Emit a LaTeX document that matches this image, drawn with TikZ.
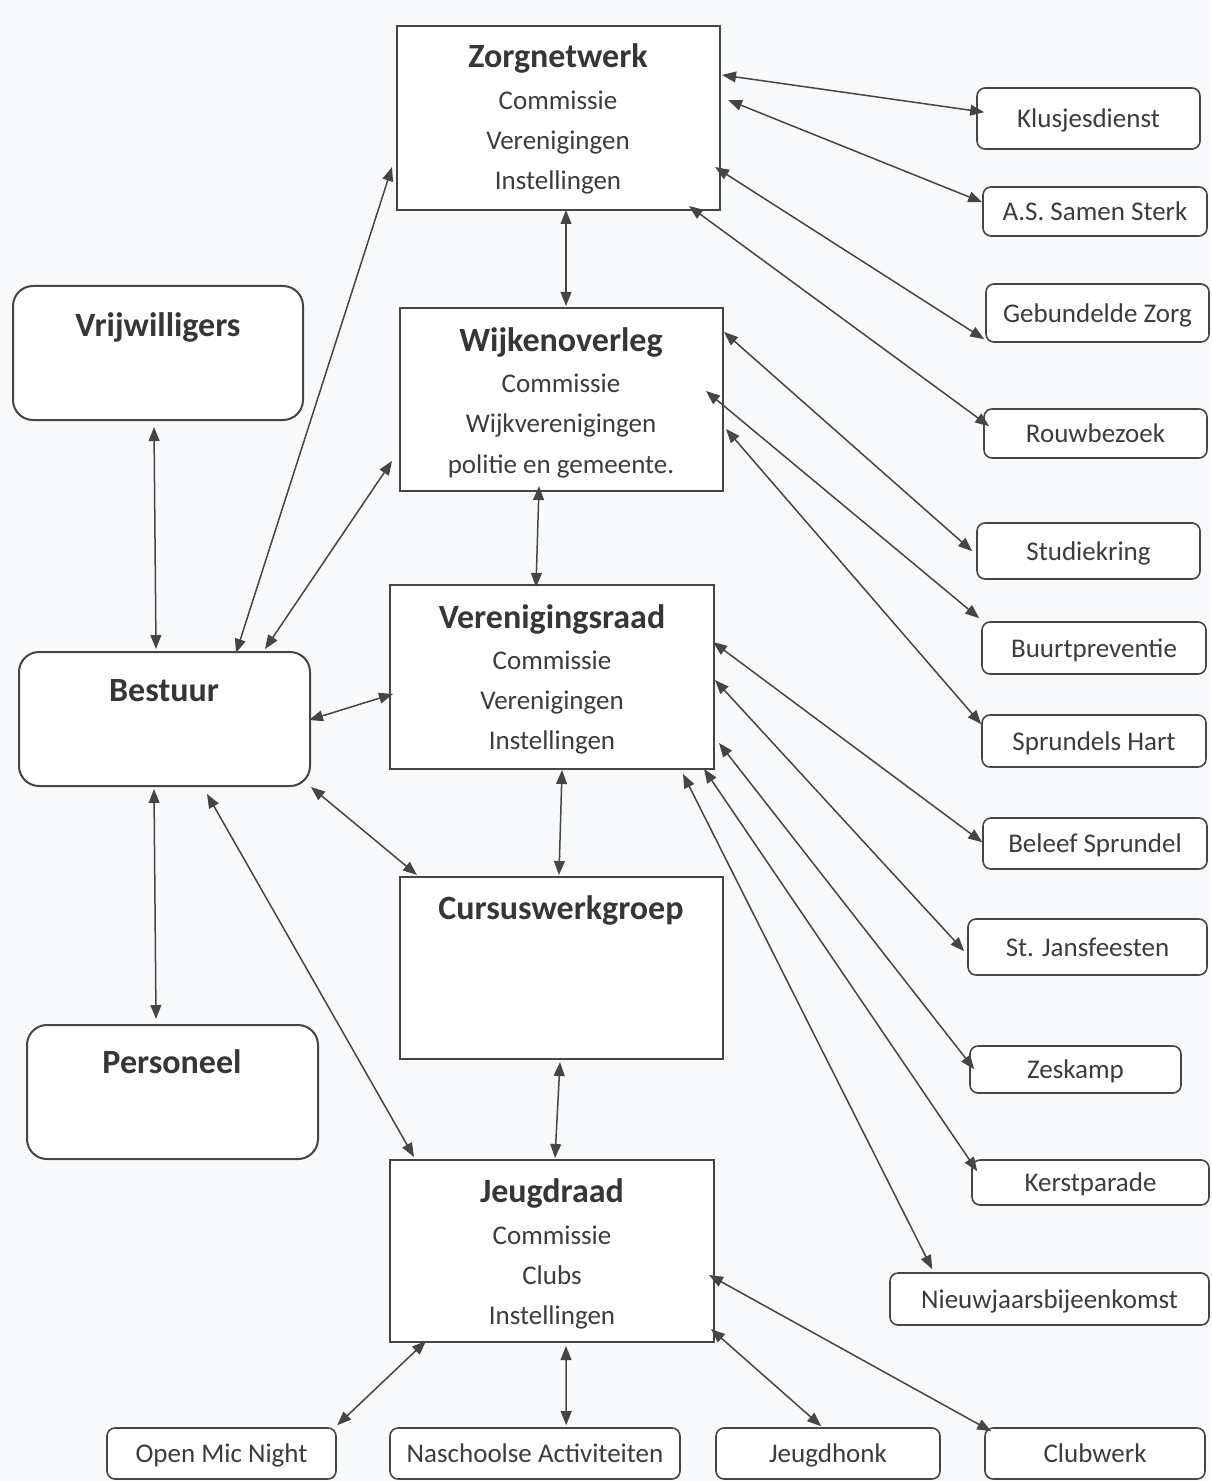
\documentclass[tikz,border=0pt]{standalone}
\usepackage{fontspec}
\setmainfont{Carlito}
\usetikzlibrary{fit,calc,arrows.meta}
\definecolor{bgc}{HTML}{F8F9FA}
\definecolor{linec}{HTML}{454545}
\definecolor{txtc}{HTML}{3C3C3C}
\tikzset{
  mbox/.style={draw=linec, line width=1pt, inner sep=0pt, fill=white},
  lbox/.style={draw=linec, line width=1pt, inner sep=0pt, rounded corners=10pt, fill=white},
  sbox/.style={draw=linec, line width=0.8pt, inner sep=0pt, rounded corners=4pt, fill=white,
    text=txtc, font=\fontsize{13.5}{16}\selectfont, text height=9pt, text depth=0pt},
  ttl/.style={anchor=base, inner sep=0pt, text=txtc!90!black, font=\fontsize{17}{20}\selectfont\bfseries},
  bdy/.style={anchor=base, inner sep=0pt, text=txtc, font=\fontsize{13.5}{16}\selectfont},
  link/.style={{Triangle[length=7pt,width=5.4pt]}-{Triangle[length=7pt,width=5.4pt]}, line width=0.75pt, draw=linec}
}
\begin{document}
\begin{tikzpicture}[x=0.5pt,y=-0.5pt]
\fill[bgc] (0,0) rectangle (1211,1481);
\useasboundingbox (0,0) rectangle (1211,1481);

% main boxes
\node[mbox, fit={(397,26)(720,210)}] (zorg) {};
\node[mbox, fit={(400,308)(723,491)}] (wijk) {};
\node[mbox, fit={(390,585)(714,769)}] (ver) {};
\node[mbox, fit={(400,877)(723,1059)}] (curs) {};
\node[mbox, fit={(390,1160)(714,1342)}] (jeugd) {};

% left boxes
\node[lbox, fit={(13,286)(303,420)}] (vrij) {};
\node[lbox, fit={(19,652)(310,786)}] (best) {};
\node[lbox, fit={(27,1025)(318,1159)}] (pers) {};

% titles and lines
\node[ttl] (zorgT) at (558,68) {Zorgnetwerk};
\node[bdy] (zorgA) at (558,110) {Commissie};
\node[bdy] (zorgB) at (558,150) {Verenigingen};
\node[bdy] (zorgC) at (558,190) {Instellingen};

\node[ttl] (wijkT) at (561,351) {Wijkenoverleg};
\node[bdy] (wijkA) at (561,392) {Commissie};
\node[bdy] (wijkB) at (561,432) {Wijkverenigingen};
\node[bdy] (wijkC) at (561,473) {politie en gemeente.};

\node[ttl] (verT) at (552,628) {Verenigingsraad};
\node[bdy] (verA) at (552,669) {Commissie};
\node[bdy] (verB) at (552,709) {Verenigingen};
\node[bdy] (verC) at (552,749) {Instellingen};

\node[ttl] (cursT) at (561,919) {Cursuswerkgroep};

\node[ttl] (jeugdT) at (552,1202) {Jeugdraad};
\node[bdy] (jeugdA) at (552,1244) {Commissie};
\node[bdy] (jeugdB) at (552,1284) {Clubs};
\node[bdy] (jeugdC) at (552,1324) {Instellingen};

\node[ttl] (vrijT) at (158,336) {Vrijwilligers};
\node[ttl] (bestT) at (164,701) {Bestuur};
\node[ttl] (persT) at (172,1073) {Personeel};

% right boxes
\node[sbox, minimum width=111.5pt, minimum height=30.5pt] (klus) at (1088.5,118.5) {Klusjesdienst};
\node[sbox, minimum width=112pt, minimum height=24.5pt] (as) at (1095,211.5) {A.S. Samen Sterk};
\node[sbox, minimum width=111.5pt, minimum height=29pt] (geb) at (1097.5,313) {Gebundelde Zorg};
\node[sbox, minimum width=111.5pt, minimum height=24.5pt] (rouw) at (1095.5,433.5) {Rouwbezoek};
\node[sbox, minimum width=111.5pt, minimum height=28pt] (stud) at (1088.5,551) {Studiekring};
\node[sbox, minimum width=112pt, minimum height=26pt] (buurt) at (1094,648) {Buurtpreventie};
\node[sbox, minimum width=112pt, minimum height=26pt] (spr) at (1094,741) {Sprundels Hart};
\node[sbox, minimum width=112pt, minimum height=25.5pt] (bel) at (1095,843.5) {Beleef Sprundel};
\node[sbox, minimum width=119.5pt, minimum height=28pt] (jans) at (1087.5,947) {St. Jansfeesten};
\node[sbox, minimum width=105.5pt, minimum height=23.5pt] (zes) at (1075.5,1069.5) {Zeskamp};
\node[sbox, minimum width=118.5pt, minimum height=22.5pt] (kerst) at (1090.5,1182.5) {Kerstparade};
\node[sbox, minimum width=159.5pt, minimum height=26pt] (nieuw) at (1049.5,1299) {Nieuwjaarsbijeenkomst};

% bottom boxes
\node[sbox, minimum width=114.5pt, minimum height=25.5pt] (open) at (221.5,1453.5) {Open Mic Night};
\node[sbox, minimum width=145pt, minimum height=25.5pt] (nas) at (535,1453.5) {Naschoolse Activiteiten};
\node[sbox, minimum width=112pt, minimum height=25.5pt] (jhonk) at (828,1453.5) {Jeugdhonk};
\node[sbox, minimum width=110pt, minimum height=25.5pt] (club) at (1095,1453.5) {Clubwerk};

% connectors: Zorgnetwerk
\draw[link] ($(zorg.north west)+(326,50)$) -- ($(klus.north west)+(8,25)$);
\draw[link] ($(zorg.north west)+(332,75)$) -- ($(as.north west)+(0,16)$);
\draw[link] ($(zorg.north west)+(319,142)$) -- ($(geb.north west)+(-1,56)$);
\draw[link] ($(zorg.north west)+(293,181)$) -- ($(rouw.north west)+(6,18)$);
% Wijkenoverleg
\draw[link] ($(wijk.north west)+(325,25)$) -- ($(stud.north west)+(-4,29)$);
\draw[link] ($(wijk.north west)+(307,84)$) -- ($(buurt.north west)+(-2,-3)$);
\draw[link] ($(wijk.north west)+(327,122)$) -- ($(spr.north west)+(0,10)$);
% Verenigingsraad
\draw[link] ($(ver.north west)+(324,58)$) -- ($(bel.north west)+(0,25)$);
\draw[link] ($(ver.north west)+(326,96)$) -- ($(jans.north west)+(-3,33)$);
\draw[link] ($(ver.north west)+(330,159)$) -- ($(zes.north west)+(5,24)$);
\draw[link] ($(ver.north west)+(315,185)$) -- ($(kerst.north west)+(6,12)$);
\draw[link] ($(ver.north west)+(294,190)$) -- ($(nieuw.north west)+(43,-3)$);
% Bestuur
\draw[link] ($(vrij.north west)+(142,142)$) -- ($(best.north west)+(138,-2)$);
\draw[link] ($(best.north west)+(218,2)$) -- ($(zorg.north west)+(-4,142)$);
\draw[link] ($(best.north west)+(247,-2)$) -- ($(wijk.north west)+(-7,154)$);
\draw[link] ($(best.north west)+(291,69)$) -- ($(ver.north west)+(4,110)$);
\draw[link] ($(best.north west)+(293,136)$) -- ($(curs.north west)+(18,-1)$);
\draw[link] ($(best.north west)+(136,138)$) -- ($(pers.north west)+(130,-5)$);
\draw[link] ($(best.north west)+(189,143)$) -- ($(jeugd.north west)+(25,-2)$);
% centre column
\draw[link] ($(zorg.north west)+(170,185)$) -- ($(wijk.north west)+(167,-1)$);
\draw[link] ($(wijk.north west)+(140,179)$) -- ($(ver.north west)+(147,3)$);
\draw[link] ($(ver.north west)+(173,186)$) -- ($(curs.north west)+(160,-1)$);
\draw[link] ($(curs.north west)+(161,186)$) -- ($(jeugd.north west)+(166,-1)$);
% Jeugdraad
\draw[link] ($(jeugd.north west)+(177,187)$) -- ($(nas.north west)+(177,-2)$);
\draw[link] ($(jeugd.north west)+(37,182)$) -- ($(open.north west)+(231,-2)$);
\draw[link] ($(jeugd.north west)+(322,170)$) -- ($(jhonk.north west)+(106,-1)$);
\draw[link] ($(jeugd.north west)+(320,116)$) -- ($(club.north west)+(7,4)$);
\end{tikzpicture}
\end{document}
